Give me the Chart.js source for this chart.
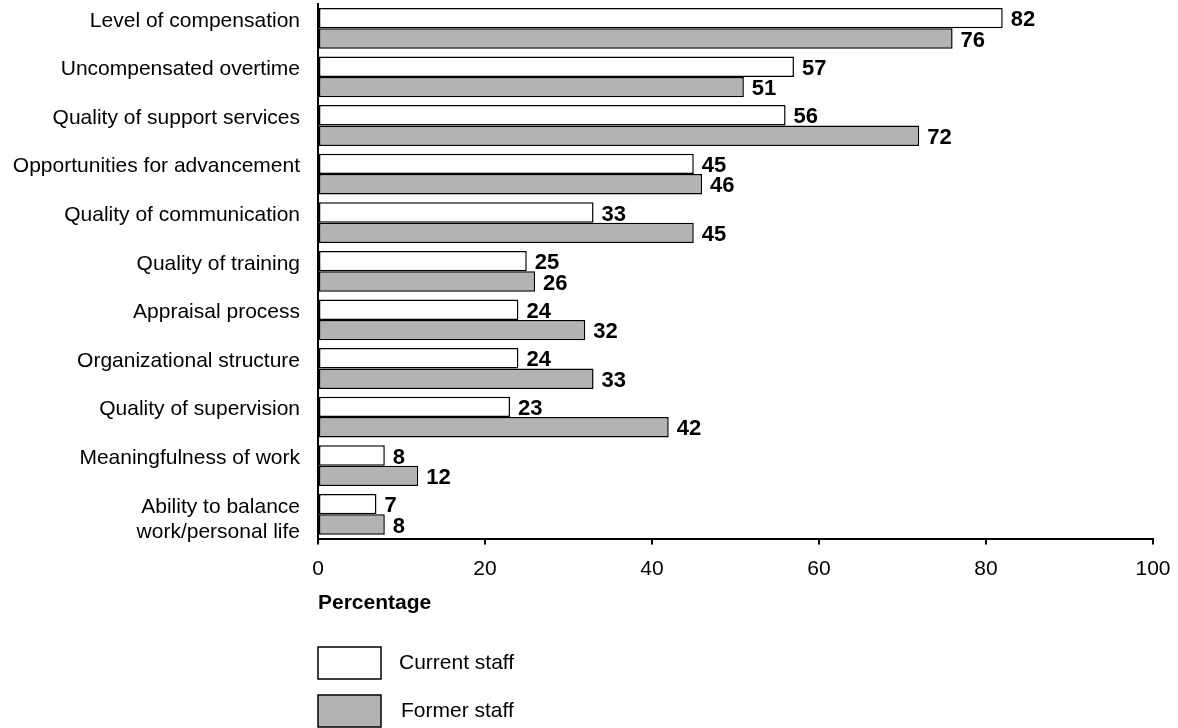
<!DOCTYPE html>
<html>
<head>
<meta charset="utf-8">
<script src="https://cdn.jsdelivr.net/npm/chart.js@4/dist/chart.umd.min.js"></script>
<style>
  html, body { margin: 0; padding: 0; background: #fff; }
  #wrap { width: 1178px; height: 728px; }
</style>
</head>
<body>
<div id="wrap"><canvas id="chart" width="1178" height="728"></canvas></div>
<script>
// categories (top to bottom)
var categories = [
  "Level of compensation",
  "Uncompensated overtime",
  "Quality of support services",
  "Opportunities for advancement",
  "Quality of communication",
  "Quality of training",
  "Appraisal process",
  "Organizational structure",
  "Quality of supervision",
  "Meaningfulness of work",
  ["Ability to balance", "work/personal life"]
];
var currentStaff = [82, 57, 56, 45, 33, 25, 24, 24, 23, 8, 7];
var formerStaff  = [76, 51, 72, 46, 45, 26, 32, 33, 42, 12, 8];
var xTicks = [0, 20, 40, 60, 80, 100];
var seriesNames = ["Current staff", "Former staff"];

var FONT = "'Liberation Sans', Arial, Helvetica, sans-serif";

// value labels at the end of each bar
var valueLabels = {
  id: "valueLabels",
  afterDatasetsDraw: function(chart){
    var ctx = chart.ctx;
    ctx.save();
    ctx.font = "bold 22px " + FONT;
    ctx.fillStyle = "#000";
    ctx.textAlign = "left";
    ctx.textBaseline = "middle";
    chart.data.datasets.forEach(function(ds, i){
      var meta = chart.getDatasetMeta(i);
      meta.data.forEach(function(bar, j){
        ctx.fillText(String(ds.data[j]), bar.x + 8, bar.y + 2);
      });
    });
    ctx.restore();
  }
};

// legend stacked below the axis title
var stackedLegend = {
  id: "stackedLegend",
  afterDraw: function(chart){
    var ctx = chart.ctx;
    var left = chart.chartArea.left;
    ctx.save();
    chart.data.datasets.forEach(function(ds, i){
      var top = 647 + i * 48;
      ctx.fillStyle = ds.backgroundColor;
      ctx.fillRect(left, top, 63, 32);
      ctx.strokeStyle = "#000";
      ctx.lineWidth = 1.5;
      ctx.strokeRect(left, top, 63, 32);
      ctx.fillStyle = "#000";
      ctx.font = "21px " + FONT;
      ctx.textBaseline = "middle";
      ctx.textAlign = "left";
      ctx.fillText(ds.label, left + 81 + i * 2, top + 16);
    });
    ctx.restore();
  }
};

var chart = new Chart(document.getElementById("chart"), {
  type: "bar",
  data: {
    labels: categories,
    datasets: [
      {
        label: seriesNames[0],
        data: currentStaff,
        backgroundColor: "#ffffff",
        borderColor: "#000",
        borderWidth: 1.5,
        borderSkipped: false
      },
      {
        label: seriesNames[1],
        data: formerStaff,
        backgroundColor: "#b3b3b3",
        borderColor: "#000",
        borderWidth: 1.5,
        borderSkipped: false
      }
    ]
  },
  options: {
    indexAxis: "y",
    responsive: false,
    animation: false,
    devicePixelRatio: 1,
    categoryPercentage: 0.84,
    barPercentage: 1.0,
    layout: { padding: { left: 0, right: 25, top: 4, bottom: 112 } },
    plugins: {
      legend: { display: false },
      tooltip: { enabled: false }
    },
    scales: {
      x: {
        min: 0,
        max: 100,
        afterBuildTicks: function(scale){
          scale.ticks = xTicks.map(function(v){ return { value: v }; });
        },
        afterFit: function(scale){
          scale.paddingLeft = 0;
          scale.paddingRight = 0;
        },
        grid: {
          display: true,
          drawOnChartArea: false,
          drawTicks: true,
          tickLength: 6,
          color: "#000",
          lineWidth: 2
        },
        border: { display: true, color: "#000", width: 2 },
        ticks: {
          color: "#000",
          padding: 12,
          font: { family: FONT, size: 21 },
          maxRotation: 0
        },
        title: {
          display: true,
          text: "Percentage",
          align: "start",
          color: "#000",
          font: { family: FONT, size: 21, weight: "bold" },
          padding: { top: -3, bottom: 0 }
        }
      },
      y: {
        afterFit: function(scale){
          scale.width = 318;
          scale.paddingTop = 0;
          scale.paddingBottom = 0;
        },
        grid: { display: false, drawTicks: false },
        border: { display: true, color: "#000", width: 2 },
        ticks: {
          color: "#000",
          padding: 18,
          autoSkip: false,
          labelOffset: 5,
          // labels sit top-aligned: pad one-line labels with an empty second line
          callback: function(value, index){
            var lbl = this.getLabelForValue(value);
            return Array.isArray(lbl) ? lbl : [lbl, ""];
          },
          font: { family: FONT, size: 21, lineHeight: 1.19 }
        }
      }
    }
  },
  plugins: [valueLabels, stackedLegend]
});
</script>
</body>
</html>
